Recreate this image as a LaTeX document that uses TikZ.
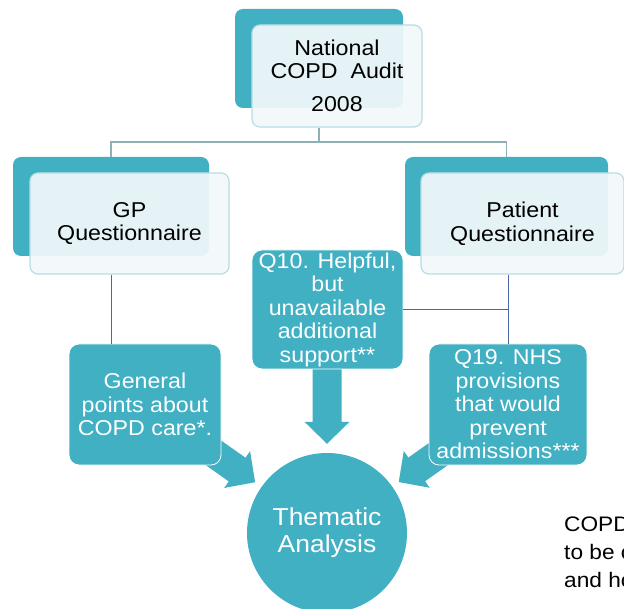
\documentclass[tikz,border=0pt]{standalone}
\usepackage{fontspec}
\setmainfont{Liberation Sans}[FakeStretch=1.08]
\usetikzlibrary{calc,backgrounds}
\definecolor{teal1}{HTML}{41B0C3}
\definecolor{frontline}{HTML}{B7DDE4}
\definecolor{frontfill}{HTML}{F2F9FA}
\definecolor{treeline}{HTML}{8FB0B6}
\definecolor{linkblue}{HTML}{4A68A8}
\newcommand\bxfont{\fontsize{21.5}{23.5}\selectfont}
\newcommand\circfont{\fontsize{24.5}{27}\selectfont}
\newcommand\notefont{\fontsize{21}{28}\selectfont}
\newcommand\blockarr[1]{\fill[teal1] (-#1,-14.5) -- (-22,-14.5) -- (-22,-22.5) -- (0,0) -- (-22,22.5) -- (-22,14.5) -- (-#1,14.5) -- cycle;}
\begin{document}
\begin{tikzpicture}[x=1pt,y=-1pt,
  backbox/.style={fill=teal1, rounded corners=8pt, inner sep=0pt},
  frontbox/.style={draw=frontline, line width=1.2pt, fill=frontfill, fill opacity=0.93, text opacity=1, draw opacity=1, rounded corners=8pt, inner sep=0pt, align=center, font=\bxfont, text=black},
  tealbox/.style={fill=teal1, draw=white, line width=0.8pt, rounded corners=10pt, align=center, text=white, font=\bxfont, inner sep=0pt},
  tree/.style={draw=treeline, line width=1.5pt},
  link/.style={draw=linkblue, line width=0.9pt}]
\useasboundingbox (0,0) rectangle (624,609);

% top level
\node[backbox, minimum width=168pt, minimum height=99pt] (topback) at (319,58.5) {};
\node[frontbox, minimum width=170pt, minimum height=102pt] (top) at (337,76) {National\\COPD~~Audit\\[9.5pt]2008};

% second level
\node[backbox, minimum width=196pt, minimum height=99pt] (gpback) at (111,206.5) {};
\node[frontbox, minimum width=199pt, minimum height=101pt] (gp) at (129.5,223.5) {GP\\Questionnaire};
\node[backbox, minimum width=203pt, minimum height=99pt] (ptback) at (506.5,206.5) {};
\node[frontbox, minimum width=203pt, minimum height=101pt] (pt) at (522.5,223.5) {Patient\\Questionnaire};

% tree connectors
\coordinate (split) at (319,142);
\draw[tree] (topback |- top.south) -- (split) -| (gpback.north);
\draw[tree] (split) -| (ptback.north);

% third level
\node[tealbox, minimum width=152pt, minimum height=121pt] (general) at (145,404.5) {General\\points about\\COPD care*.};
\node[tealbox, minimum width=151pt, minimum height=119pt] (q10) at (327.5,309.5) {Q10. Helpful,\\but\\unavailable\\additional\\support**};
\node[tealbox, minimum width=158pt, minimum height=121pt] (q19) at (508,404.5) {Q19. NHS\\provisions\\that would\\prevent\\admissions***};

% thematic analysis
\node[circle, fill=teal1, minimum size=160pt, inner sep=0pt, text=white, font=\circfont, align=center] (circ) at (327,533) {Thematic\\Analysis};

% block arrows
\begin{scope}[on background layer]
\begin{scope}[shift={($(circ.north)+(0,-9)$)}, rotate=-90] \blockarr{80} \end{scope}
\begin{scope}[shift={($(circ.center)!88pt!(general.center)$)}, rotate=-35.2] \blockarr{72} \end{scope}
\begin{scope}[shift={($(circ.center)!88pt!(q19.center)$)}, rotate=-144.8] \blockarr{72} \end{scope}
\end{scope}

% thin links
\draw[link] (gpback |- gp.south) -- (gpback |- general.north);
\draw[link] (q19 |- pt.south) -- (q19.north);
\draw[link] (q10.east) -- (q10.east -| q19);

% side note (cut by the picture edge, as in the reference)
\node[font=\notefont, align=left, anchor=north west, inner sep=0pt] (note) at (564,517) {COPD\\to be c\\and ho};
\end{tikzpicture}
\end{document}
